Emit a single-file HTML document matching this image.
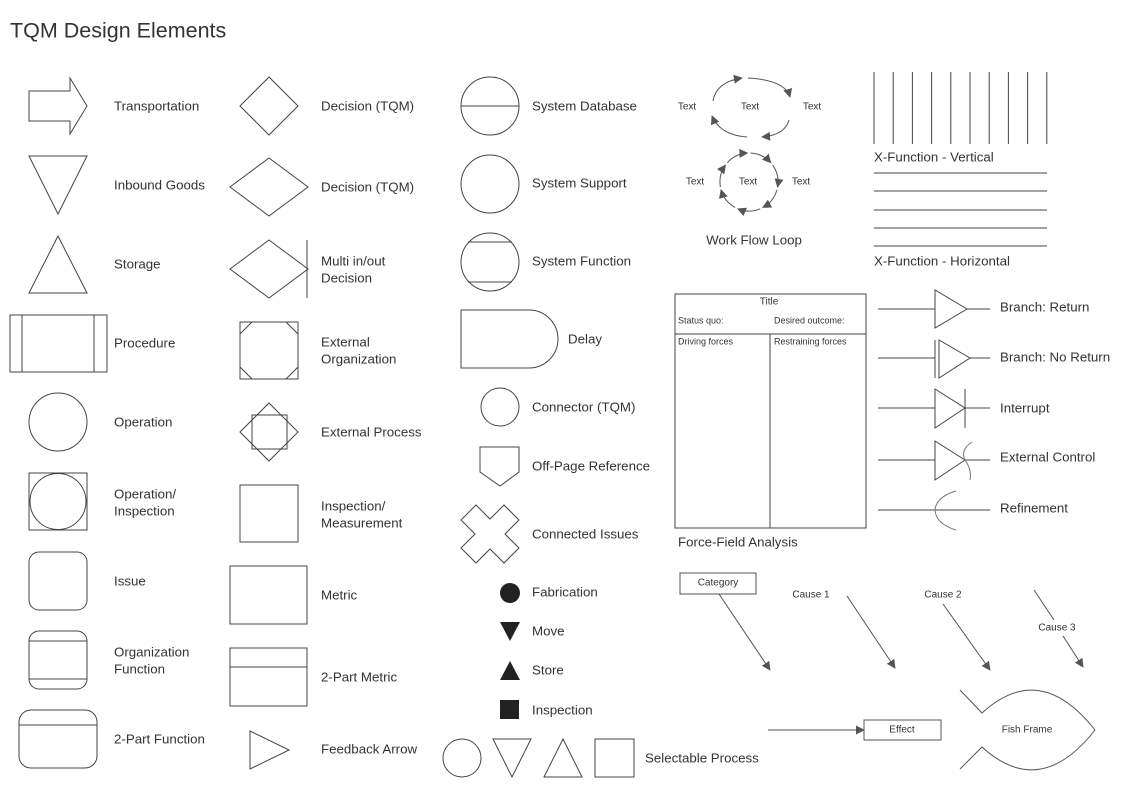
<!DOCTYPE html>
<html><head><meta charset="utf-8"><style>
html,body{margin:0;padding:0;background:#fff}
svg{display:block}
text{font-family:"Liberation Sans",sans-serif;fill:#333}
.l{font-size:13.3px;dominant-baseline:middle}
.s{font-size:10px;dominant-baseline:middle}
</style></head><body>
<svg width="1123" height="794" viewBox="0 0 1123 794" xmlns="http://www.w3.org/2000/svg">
<defs><marker id="a" viewBox="0 0 10 10" refX="9" refY="5" markerWidth="9" markerHeight="9" orient="auto" markerUnits="userSpaceOnUse"><path d="M0,0L10,5L0,10z" fill="#555"/></marker></defs>
<text x="10" y="32" style="font-size:21.5px;dominant-baseline:middle">TQM Design Elements</text>
<g fill="none" stroke="#444" stroke-width="1">
<path d="M29,91H70V78L87,106L70,134V121H29z"/>
<path d="M29,156H87L58,214z"/>
<path d="M58,236L87,293H29z"/>
<rect x="10" y="315" width="97" height="57"/><path d="M22,315V372M94,315V372"/>
<circle cx="58" cy="422" r="29"/>
<rect x="29" y="473" width="58" height="57"/><circle cx="58" cy="501.5" r="28"/>
<rect x="29" y="552" width="58" height="58" rx="10"/>
<rect x="29" y="631" width="58" height="58" rx="10"/><path d="M29,641H87M29,679H87"/>
<rect x="19" y="710" width="78" height="58" rx="12"/><path d="M19,725H97"/>
<path d="M269,77L298,106L269,135L240,106z"/>
<path d="M269,158L308,187L269,216L230,187z"/>
<path d="M269,240L308,269L269,298L230,269z"/><path d="M307,240V298"/>
<rect x="240" y="322" width="58" height="57"/><path d="M240,334L252,322M286,322L298,334M298,367L286,379M252,379L240,367"/>
<path d="M269,403L298,432L269,461L240,432z"/><rect x="252" y="415" width="35" height="34"/>
<rect x="240" y="485" width="58" height="57"/>
<rect x="230" y="566" width="77" height="58"/>
<rect x="230" y="648" width="77" height="58"/><path d="M230,667H307"/>
<path d="M250,731L289,750L250,769z"/>
<circle cx="490" cy="106" r="29"/><path d="M461,106H519"/>
<circle cx="490" cy="184" r="29"/>
<circle cx="490" cy="262" r="29"/><path d="M468,242H512M468,282H512"/>
<path d="M461,310H529A29,29 0 0 1 529,368H461z"/>
<circle cx="500" cy="407" r="19"/>
<path d="M480,447H519V472L500,486L480,472z"/>
<path d="M476,505L490,519L504,505L519,520L505,534L519,548L504,563L490,549L476,563L461,548L475,534L461,520z"/>
<circle cx="462" cy="758" r="19"/>
<path d="M493,739H531L512,777z"/>
<path d="M544,777H582L563,739z"/>
<rect x="595" y="739" width="39" height="38"/>
</g>
<g fill="#222">
<circle cx="510" cy="593" r="10"/>
<path d="M500,622H520L510,641z"/>
<path d="M500,680H520L510,661z"/>
<rect x="500" y="700" width="19" height="19"/>
</g>
<g>
<text class="l" x="114" y="107">Transportation</text>
<text class="l" x="114" y="186">Inbound Goods</text>
<text class="l" x="114" y="265">Storage</text>
<text class="l" x="114" y="344">Procedure</text>
<text class="l" x="114" y="423">Operation</text>
<text class="l" x="114" y="495">Operation/</text>
<text class="l" x="114" y="512">Inspection</text>
<text class="l" x="114" y="582">Issue</text>
<text class="l" x="114" y="653">Organization</text>
<text class="l" x="114" y="670">Function</text>
<text class="l" x="114" y="740">2-Part Function</text>
<text class="l" x="321" y="107">Decision (TQM)</text>
<text class="l" x="321" y="188">Decision (TQM)</text>
<text class="l" x="321" y="262">Multi in/out</text>
<text class="l" x="321" y="279">Decision</text>
<text class="l" x="321" y="343">External</text>
<text class="l" x="321" y="360">Organization</text>
<text class="l" x="321" y="433">External Process</text>
<text class="l" x="321" y="507">Inspection/</text>
<text class="l" x="321" y="524">Measurement</text>
<text class="l" x="321" y="596">Metric</text>
<text class="l" x="321" y="678">2-Part Metric</text>
<text class="l" x="321" y="750">Feedback Arrow</text>
<text class="l" x="532" y="107">System Database</text>
<text class="l" x="532" y="184">System Support</text>
<text class="l" x="532" y="262">System Function</text>
<text class="l" x="568" y="340">Delay</text>
<text class="l" x="532" y="408">Connector (TQM)</text>
<text class="l" x="532" y="467">Off-Page Reference</text>
<text class="l" x="532" y="535">Connected Issues</text>
<text class="l" x="532" y="593">Fabrication</text>
<text class="l" x="532" y="632">Move</text>
<text class="l" x="532" y="671">Store</text>
<text class="l" x="532" y="711">Inspection</text>
<text class="l" x="645" y="759">Selectable Process</text>
</g>
<g fill="none" stroke="#555" stroke-width="1" marker-end="url(#a)">
<path d="M713,101Q716,82 742,78"/>
<path d="M748,78Q785,80 790,97"/>
<path d="M789,120Q785,135 762,137"/>
<path d="M747,137Q720,135 712,116"/>
<path d="M750.5,153A29,29 0 0 1 770.7,162.7"/>
<path d="M772.6,165.1A29,29 0 0 1 777.6,187"/>
<path d="M776.9,189.9A29,29 0 0 1 762.9,207.4"/>
<path d="M760.2,208.8A29,29 0 0 1 737.8,208.8"/>
<path d="M735.1,207.4A29,29 0 0 1 721.1,189.9"/>
<path d="M720.4,187A29,29 0 0 1 725.4,165.1"/>
<path d="M727.3,162.7A29,29 0 0 1 747.5,153"/>
</g>
<text class="s" x="687" y="107" text-anchor="middle">Text</text>
<text class="s" x="750" y="107" text-anchor="middle">Text</text>
<text class="s" x="812" y="107" text-anchor="middle">Text</text>
<text class="s" x="695" y="182" text-anchor="middle">Text</text>
<text class="s" x="748" y="182" text-anchor="middle">Text</text>
<text class="s" x="801" y="182" text-anchor="middle">Text</text>
<text class="l" x="754" y="241" text-anchor="middle">Work Flow Loop</text>
<g stroke="#444">
<path d="M874,72V144M893.2,72V144M912.4,72V144M931.6,72V144M950.8,72V144M970,72V144M989.2,72V144M1008.4,72V144M1027.6,72V144M1046.8,72V144"/>
<path d="M874,173H1047M874,191H1047M874,210H1047M874,228H1047M874,246H1047"/>
</g>
<text class="l" x="874" y="158">X-Function - Vertical</text>
<text class="l" x="874" y="262">X-Function - Horizontal</text>
<g fill="none" stroke="#444"><rect x="675" y="294" width="191" height="234"/><path d="M675,334H866M770,334V528"/></g>
<text class="s" x="769" y="302" text-anchor="middle">Title</text>
<text class="s" x="678" y="321" style="font-size:9px">Status quo:</text>
<text class="s" x="774" y="321" style="font-size:9px">Desired outcome:</text>
<text class="s" x="678" y="342" style="font-size:9px">Driving forces</text>
<text class="s" x="774" y="342" style="font-size:9px">Restraining forces</text>
<text class="l" x="678" y="543">Force-Field Analysis</text>
<g fill="none" stroke="#444">
<path d="M878,309H935M967,309H990M935,290V328L967,309z"/>
<path d="M878,358H935M970,358H990M935,340V378M939,340V378L970,358z"/>
<path d="M878,408H935M965,408H990M935,389V428L965,408zM965,389V428"/>
<path d="M878,460H935M965,460H990M935,441V480L965,460z"/>
<path d="M972,442Q960,450 965,460Q972,470 970,480" stroke="#777"/>
<path d="M878,510H990"/>
<path d="M956,491Q936,497 935,510Q936,524 956,530" stroke="#777"/>
</g>
<text class="l" x="1000" y="308">Branch: Return</text>
<text class="l" x="1000" y="358">Branch: No Return</text>
<text class="l" x="1000" y="409">Interrupt</text>
<text class="l" x="1000" y="458">External Control</text>
<text class="l" x="1000" y="509">Refinement</text>
<g fill="none" stroke="#555">
<rect x="680" y="573" width="76" height="21"/>
<path d="M719,594L770,670" marker-end="url(#a)"/>
<path d="M847,596L895,668" marker-end="url(#a)"/>
<path d="M943,604L990,670" marker-end="url(#a)"/>
<path d="M1034,590L1054,620"/>
<path d="M1063,636L1083,667" marker-end="url(#a)"/>
<path d="M768,730L864,730" marker-end="url(#a)"/>
<rect x="864" y="720" width="77" height="20"/>
<path d="M960,690L982,713Q1040,660 1095,730Q1040,800 982,747L960,769"/>
</g>
<text class="s" x="718" y="583" text-anchor="middle">Category</text>
<text class="s" x="811" y="595" text-anchor="middle">Cause 1</text>
<text class="s" x="943" y="595" text-anchor="middle">Cause 2</text>
<text class="s" x="1057" y="628" text-anchor="middle">Cause 3</text>
<text class="s" x="902" y="730" text-anchor="middle">Effect</text>
<text class="s" x="1027" y="730" text-anchor="middle">Fish Frame</text>
</svg>
</body></html>
